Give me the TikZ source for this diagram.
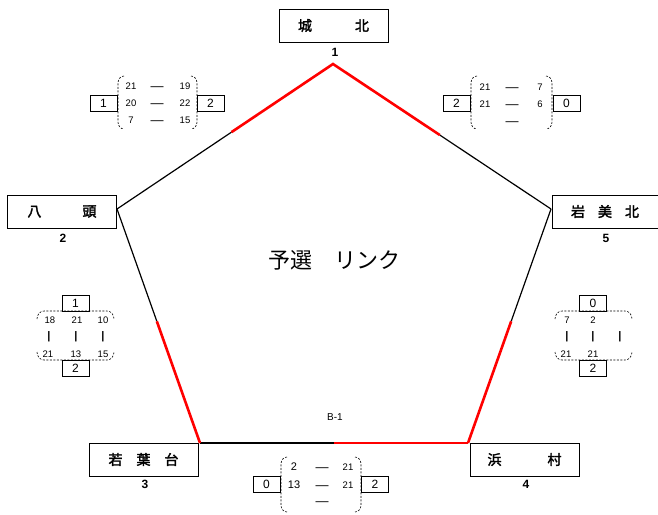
\documentclass[tikz,border=0pt]{standalone}
\usepackage{fontspec}
\setmainfont{Liberation Sans}
\newfontfamily\jpfont{Noto Sans CJK JP}
\newfontfamily\jpbold{Noto Sans CJK JP}[FakeBold=2.2]
\usetikzlibrary{calc}
\begin{document}
\begin{tikzpicture}[x=1pt,y=-1pt,
  team/.style={draw,line width=0.9pt,minimum width=109pt,minimum height=33pt,inner sep=0pt,font=\jpbold\fontsize{14}{14}\selectfont},
  teamnum/.style={inner sep=0pt,font=\bfseries\fontsize{12}{12}\selectfont},
  res/.style={draw,line width=0.7pt,minimum width=27pt,minimum height=16pt,inner sep=0pt,font=\fontsize{12}{12}\selectfont},
  sc/.style={inner sep=0pt,font=\fontsize{9.5}{9.5}\selectfont},
  dsh/.style={inner sep=0pt,yshift=-2.5pt,font=\fontsize{13}{13}\selectfont},
  bar/.style={inner sep=0pt,font=\bfseries\fontsize{11}{11}\selectfont},
  brk/.style={line width=0.6pt,dash pattern=on 2pt off 1.5pt},
  blk/.style={line width=1.2pt,black},
  rd/.style={line width=2.6pt,red},
]
\useasboundingbox (0,0) rectangle (658,514);

% teams
\node[team] (t1) at (333.5,25.5) {城\hspace{43pt}北};
\node[teamnum] (n1) at (335,52) {1};
\node[team] (t2) at (62,211.5) {八\hspace{41pt}頭};
\node[teamnum] (n2) at (63,238) {2};
\node[team,minimum width=106pt] (t5) at (605,211.5) {岩\hspace{13pt}美\hspace{13pt}北};
\node[teamnum] (n5) at (606,238) {5};
\node[team] (t3) at (143.5,459.5) {若\hspace{14pt}葉\hspace{14pt}台};
\node[teamnum] (n3) at (145,484) {3};
\node[team] (t4) at (524.5,459.5) {浜\hspace{46pt}村};
\node[teamnum] (n4) at (526,484) {4};

% pentagon
\coordinate (v1) at (333,64);
\coordinate (v2) at (117,209);
\coordinate (v5) at (551,209);
\coordinate (v3) at (200,443);
\coordinate (v4) at (468,443);
\coordinate (m12) at ($(v1)!0.47!(v2)$);
\coordinate (m15) at ($(v1)!0.49!(v5)$);
\coordinate (m23) at ($(v2)!0.48!(v3)$);
\coordinate (m54) at ($(v5)!0.48!(v4)$);
\coordinate (m34) at ($(v3)!0.5!(v4)$);
\draw[blk] (m12) -- (v2);
\draw[blk] (m15) -- (v5);
\draw[blk] (v2) -- (m23);
\draw[blk] (v5) -- (m54);
\draw[blk] (v3) -- (m34);
\draw[rd] (m12) -- (v1) -- (m15);
\draw[rd] (m23) -- (v3);
\draw[rd] (m54) -- (v4);
\draw[rd] (m34) -- (v4);

\node[inner sep=0pt,font=\jpfont\fontsize{22}{22}\selectfont] (title) at (334,260) {予選　リンク};
\node[inner sep=0pt,font=\fontsize{10}{10}\selectfont] (b1) at (335,417) {B-1};

% match 1-2 (top-left)
\node[res] (r12a) at (103.5,103) {1};
\node[res] (r12b) at (210.5,103) {2};
\draw[brk] (124,76) to[out=180,in=90] (118,83) -- (118,122) to[out=-90,in=180] (124,129);
\draw[brk] (191,76) to[out=0,in=90] (197,83) -- (197,122) to[out=-90,in=0] (191,129);
\node[sc] (a1) at (131,86) {21}; \node[dsh] (a2) at (157,86) {—}; \node[sc] (a3) at (185,86) {19};
\node[sc] (a4) at (131,103) {20}; \node[dsh] (a5) at (157,103) {—}; \node[sc] (a6) at (185,103) {22};
\node[sc] (a7) at (131,120) {7}; \node[dsh] (a8) at (157,120) {—}; \node[sc] (a9) at (185,120) {15};

% match 1-5 (top-right)
\node[res] (r15a) at (456.5,103) {2};
\node[res] (r15b) at (566.5,103) {0};
\draw[brk] (477,76) to[out=180,in=90] (471,83) -- (471,122) to[out=-90,in=180] (477,129);
\draw[brk] (546,76) to[out=0,in=90] (552,83) -- (552,122) to[out=-90,in=0] (546,129);
\node[sc] (b1a) at (485,87) {21}; \node[dsh] (b2) at (512,87) {—}; \node[sc] (b3) at (540,87) {7};
\node[sc] (b4) at (485,104) {21}; \node[dsh] (b5) at (512,104) {—}; \node[sc] (b6) at (540,104) {6};
\node[dsh] (b8) at (512,121) {—};

% match 2-3 (left)
\node[res] (r23a) at (75.5,303.5) {1};
\node[res] (r23b) at (75.5,368) {2};
\draw[brk] (37,319) to[out=90,in=180] (44,311) -- (107,311) to[out=0,in=90] (114,319);
\draw[brk] (37,352) to[out=-90,in=180] (44,360) -- (107,360) to[out=0,in=-90] (114,352);
\node[sc] (c1) at (50,320) {18}; \node[sc] (c2) at (77,320) {21}; \node[sc] (c3) at (103,320) {10};
\node[bar] (c4) at (49,337) {|}; \node[bar] (c5) at (76,337) {|}; \node[bar] (c6) at (103,337) {|};
\node[sc] (c7) at (48,354) {21}; \node[sc] (c8) at (76,354) {13}; \node[sc] (c9) at (103,354) {15};

% match 5-4 (right)
\node[res] (r54a) at (593,303.5) {0};
\node[res] (r54b) at (593,368) {2};
\draw[brk] (555,319) to[out=90,in=180] (562,311) -- (625,311) to[out=0,in=90] (632,319);
\draw[brk] (555,352) to[out=-90,in=180] (562,360) -- (625,360) to[out=0,in=-90] (632,352);
\node[sc] (d1) at (567,320) {7}; \node[sc] (d2) at (593,320) {2};
\node[bar] (d4) at (567,337) {|}; \node[bar] (d5) at (593,337) {|}; \node[bar] (d6) at (620,337) {|};
\node[sc] (d7) at (566,354) {21}; \node[sc] (d8) at (593,354) {21};

% match 3-4 (bottom)
\node[res] (r34a) at (266.5,484) {0};
\node[res] (r34b) at (375,484) {2};
\draw[brk] (287,457) to[out=180,in=90] (281,464) -- (281,505) to[out=-90,in=180] (287,512);
\draw[brk] (355,457) to[out=0,in=90] (361,464) -- (361,505) to[out=-90,in=0] (355,512);
\node[sc,font=\fontsize{11}{11}\selectfont] (e1) at (294,467) {2}; \node[dsh] (e2) at (322,467) {—}; \node[sc] (e3) at (348,467) {21};
\node[sc,font=\fontsize{11}{11}\selectfont] (e4) at (294,485) {13}; \node[dsh] (e5) at (322,485) {—}; \node[sc] (e6) at (348,485) {21};
\node[dsh] (e8) at (322,501) {—};
\end{tikzpicture}
\end{document}
